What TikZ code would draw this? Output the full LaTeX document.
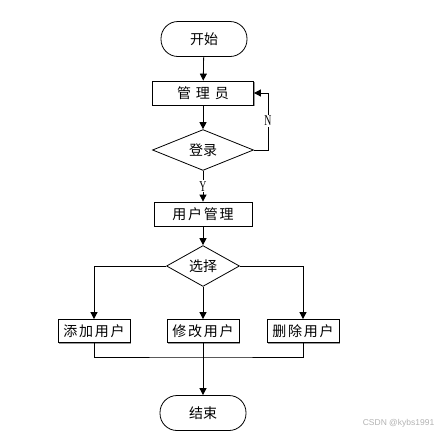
\documentclass[tikz,border=0pt]{standalone}
\usepackage{fontspec}
\setmainfont{Noto Sans CJK SC}
\newfontfamily\latinserif{Liberation Serif}
\newfontfamily\wmfont{Liberation Sans}
\usetikzlibrary{shapes.geometric,arrows.meta,shadows}
\begin{document}
\begin{tikzpicture}[x=1pt,y=-1pt,line width=0.8pt,
  font=\fontsize{14}{16}\selectfont,
  terminal/.style={draw,rounded corners=17pt,minimum width=86pt,minimum height=35pt,inner sep=0pt},
  process/.style={draw,fill=white,drop shadow={shadow xshift=1.2pt,shadow yshift=-1.2pt,fill=gray!80,opacity=1},
    minimum height=24pt,inner sep=0pt,font=\fontsize{14}{16}\selectfont\addfontfeature{LetterSpace=12}},
  decision/.style={draw,diamond,inner sep=0pt},
  flow/.style={-{Triangle[length=7pt,width=7pt]}},
  yn/.style={fill=white,inner sep=1pt,font=\latinserif\fontsize{15}{15}\selectfont}]
\useasboundingbox (0,0) rectangle (442,437);
% nodes
\node[terminal] (start) at (204,39) {开始};
\node[process,minimum width=101pt] (admin) at (203,93) {管 理 员};
\node[decision,minimum width=101pt,minimum height=39pt] (login) at (203,150) {登录};
\node[process,minimum width=98pt] (usermgr) at (203,214) {用户管理};
\node[decision,minimum width=73pt,minimum height=29pt] (choose) at (203,266) {选择};
\node[process,minimum width=72pt,minimum height=23pt] (add) at (94,331) {添加用户};
\node[process,minimum width=72pt,minimum height=23pt] (edit) at (203,331) {修改用户};
\node[process,minimum width=72pt,minimum height=23pt] (del) at (303,331) {删除用户};
\node[terminal] (end) at (203,413) {结束};
\coordinate (loopN) at (268,93);
\coordinate (merge) at (203,357);
% connectors
\draw[flow] (start) -- (admin);
\draw[flow] (admin) -- (login);
\draw[flow] (login.east) -| (loopN) -- (admin.east);
\node[yn] (labelN) at (268,121) {\scalebox{0.65}[1]{N}};
\draw[flow] (login) -- node[yn] (labelY) {\scalebox{0.65}[1]{Y}} (usermgr);
\draw[flow] (usermgr) -- (choose);
\draw[flow] (choose.west) -| (add);
\draw[flow] (choose) -- (edit);
\draw[flow] (choose.east) -| (del);
\draw (add.south) |- (merge) -| (del.south);
\draw[flow] (edit) -- (end);
% watermark
\node[anchor=east,text=gray!60,font=\wmfont\fontsize{8.5}{10}\selectfont] (mark) at (438,423) {CSDN @kybs1991};
\end{tikzpicture}
\end{document}
